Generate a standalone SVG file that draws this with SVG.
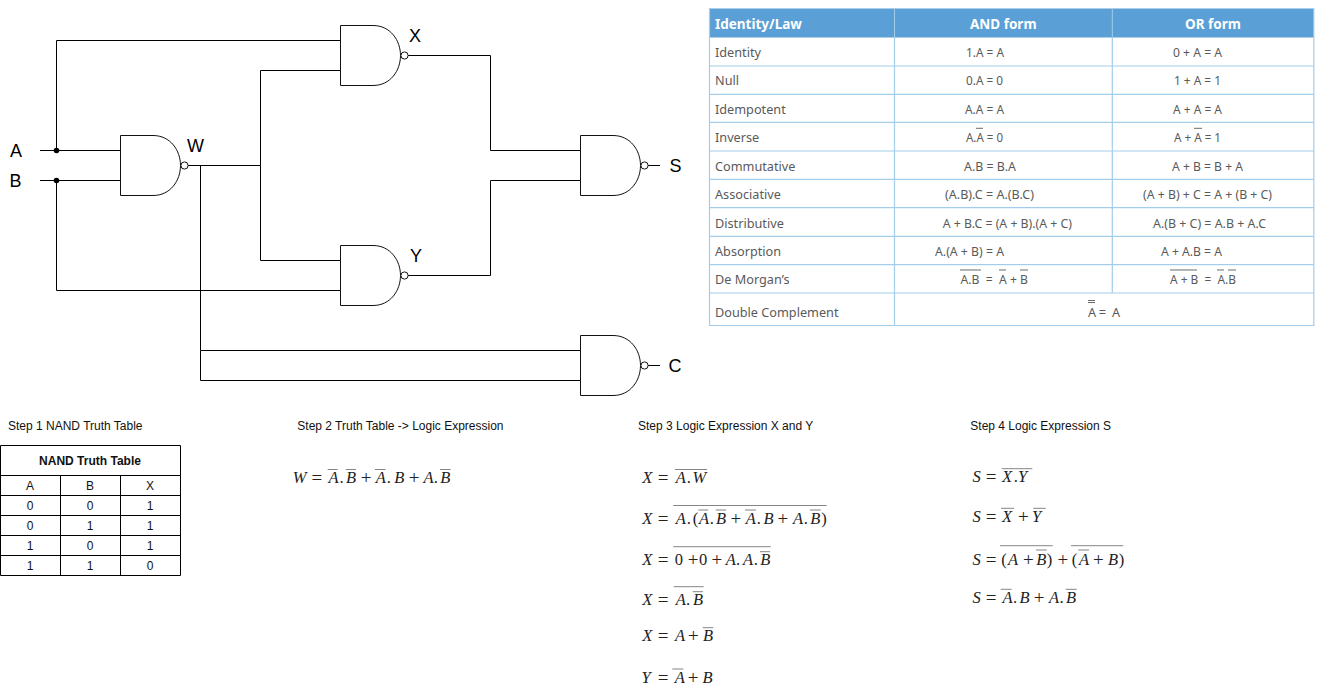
<svg xmlns="http://www.w3.org/2000/svg" xmlns:xlink="http://www.w3.org/1999/xlink" width="1324" height="698" viewBox="0 0 1324 698">
<style>
.w{fill:none;stroke:#000;stroke-width:1}
.g{fill:#fff;stroke:#111;stroke-width:1}
.l{font:18px "Liberation Sans",Arial,sans-serif;fill:#000}
.s{font:12px "Liberation Sans",Arial,sans-serif;fill:#111}
.c{font:12px "Liberation Sans",Arial,sans-serif;fill:#111;text-anchor:middle}
.b{font-weight:700}
.tb{fill:none;stroke:#000;stroke-width:1}
.tl{fill:none;stroke:#a3cdea;stroke-width:1.2}
.tt{font:12.7px "Noto Sans",sans-serif;fill:#5a5a5a}
.th{font:700 13.5px "Noto Sans",sans-serif;fill:#fff}
.o{stroke:#666;stroke-width:.8;fill:none}
.ot{stroke:#444;stroke-width:.8;fill:none}
.m{font:italic 16.5px "Liberation Serif",serif;fill:#222}
.r{font-style:normal}
.p{font-style:normal;font-size:19px;baseline-shift:-.7px}
</style>
<defs>
<g id="nand">
<path class="g" d="M0 0H32.5C50 0 60 15 60 30C60 45 50 60 32.5 60H0Z"/>
<circle class="g" cx="64" cy="30" r="3.6"/>
</g>
</defs>

<g id="connectors">
<path class="w" d="M40 150.5H120.5M40 180.5H120.5"/>
<path class="w" d="M56.5 150.5V40.5H340.5"/>
<path class="w" d="M56.5 180.5V290.5H340.5"/>
<path class="w" d="M187.5 165.5H260.5"/>
<path class="w" d="M340.5 70.5H260.5V260.5H340.5"/>
<path class="w" d="M580.5 350.5H200.5V165.5M200.5 350.5V380.5H580.5"/>
<path class="w" d="M407.5 55.5H490.5V150.5H580.5"/>
<path class="w" d="M407.5 275.5H490.5V180.5H580.5"/>
<path class="w" d="M647.5 165.5H660M647.5 365.5H660"/>
<circle cx="56.5" cy="150.5" r="2.8"/>
<circle cx="56.5" cy="180.5" r="2.8"/>
</g>

<g id="input-a"><text class="l" x="10" y="157">A</text></g>
<g id="input-b"><text class="l" x="9.5" y="187">B</text></g>
<g id="gate-w"><use xlink:href="#nand" href="#nand" x="120.5" y="135.5"/><text class="l" x="187" y="152">W</text></g>
<g id="gate-x"><use xlink:href="#nand" href="#nand" x="340.5" y="25.5"/><text class="l" x="409" y="42">X</text></g>
<g id="gate-y"><use xlink:href="#nand" href="#nand" x="340.5" y="245.5"/><text class="l" x="410" y="262">Y</text></g>
<g id="gate-s"><use xlink:href="#nand" href="#nand" x="580.5" y="135.5"/><text class="l" x="669.5" y="172">S</text></g>
<g id="gate-c"><use xlink:href="#nand" href="#nand" x="580.5" y="335.5"/><text class="l" x="668.5" y="372">C</text></g>

<g id="laws-table">
<rect x="709" y="8.5" width="605" height="29" fill="#5a9fd6"/>
<path d="M894.5 8.5V37.5M1112.3 8.5V37.5" stroke="#a3cdea" stroke-width="1"/>
<path class="tl" d="M709.5 8V325.5H1313.8V8M709 66H1314M709 94.3H1314M709 122.3H1314M709 151H1314M709 179.3H1314M709 207.7H1314M709 236.3H1314M709 264.7H1314M709 293H1314M894.5 37.5V325.5M1112.3 37.5V293"/>
<text class="th" x="715" y="28.5">Identity/Law</text>
<text class="th" x="970" y="28.5">AND form</text>
<text class="th" x="1185" y="28.5">OR form</text>

<g>
<text class="tt" x="715" y="57">Identity</text>
<text class="tt" x="715" y="85.3">Null</text>
<text class="tt" x="715" y="113.5">Idempotent</text>
<text class="tt" x="715" y="142">Inverse</text>
<text class="tt" x="715" y="170.5">Commutative</text>
<text class="tt" x="715" y="199.3">Associative</text>
<text class="tt" x="715" y="227.5">Distributive</text>
<text class="tt" x="715" y="255.7">Absorption</text>
<text class="tt" x="715" y="284">De Morgan’s</text>
<text class="tt" x="715" y="317">Double Complement</text>

<text class="tt" x="966" y="57" textLength="38" lengthAdjust="spacingAndGlyphs">1.A = A</text>
<text class="tt" x="966" y="85.3" textLength="37" lengthAdjust="spacingAndGlyphs">0.A = 0</text>
<text class="tt" x="965" y="113.5" textLength="39" lengthAdjust="spacingAndGlyphs">A.A = A</text>
<text class="tt" x="966" y="142" textLength="37" lengthAdjust="spacingAndGlyphs">A.A = 0</text>
<text class="tt" x="964" y="170.5" textLength="52" lengthAdjust="spacingAndGlyphs">A.B = B.A</text>
<text class="tt" x="945" y="199.3" textLength="89" lengthAdjust="spacingAndGlyphs">(A.B).C = A.(B.C)</text>
<text class="tt" x="942.7" y="227.5" textLength="129.3" lengthAdjust="spacingAndGlyphs">A + B.C = (A + B).(A + C)</text>
<text class="tt" x="935" y="255.7" textLength="69" lengthAdjust="spacingAndGlyphs">A.(A + B) = A</text>
<text class="tt" x="960.5" y="284" textLength="67.5" lengthAdjust="spacingAndGlyphs" xml:space="preserve">A.B  =  A + B</text>

<text class="tt" x="1173" y="57" textLength="49" lengthAdjust="spacingAndGlyphs">0 + A = A</text>
<text class="tt" x="1174" y="85.3" textLength="47" lengthAdjust="spacingAndGlyphs">1 + A = 1</text>
<text class="tt" x="1173" y="113.5" textLength="49" lengthAdjust="spacingAndGlyphs">A + A = A</text>
<text class="tt" x="1174" y="142" textLength="47" lengthAdjust="spacingAndGlyphs">A + A = 1</text>
<text class="tt" x="1172" y="170.5" textLength="71" lengthAdjust="spacingAndGlyphs">A + B = B + A</text>
<text class="tt" x="1143" y="199.3" textLength="129" lengthAdjust="spacingAndGlyphs">(A + B) + C = A + (B + C)</text>
<text class="tt" x="1153" y="227.5" textLength="113" lengthAdjust="spacingAndGlyphs">A.(B + C) = A.B + A.C</text>
<text class="tt" x="1161" y="255.7" textLength="61" lengthAdjust="spacingAndGlyphs">A + A.B = A</text>
<text class="tt" x="1170" y="284" textLength="66" lengthAdjust="spacingAndGlyphs" xml:space="preserve">A + B  =  A.B</text>
<text class="tt" x="1088" y="317" textLength="32" xml:space="preserve">A =  A</text>
</g>
<path class="ot" d="M976 128.3H983M1194 128.3H1202M960 270H981M999 270H1006M1020 270H1028M1170 270H1197M1217 270H1224M1228 270H1236M1088 300.5H1095M1088 302.5H1095"/>
</g>

<g id="step-titles">
<text class="s" x="8" y="430">Step 1 NAND Truth Table</text>
<text class="s" x="297.3" y="430">Step 2 Truth Table -&gt; Logic Expression</text>
<text class="s" x="638" y="430">Step 3 Logic Expression X and Y</text>
<text class="s" x="970.3" y="430">Step 4 Logic Expression S</text>
</g>

<g id="truth-table">
<path class="tb" d="M.5 445.5H180.5V575.5H.5ZM.5 475.5H180.5M.5 495.5H180.5M.5 515.5H180.5M.5 535.5H180.5M.5 555.5H180.5M60.5 475.5V575.5M120.5 475.5V575.5"/>
<text class="c b" x="90" y="465">NAND Truth Table</text>
<text class="c" x="30" y="490">A</text><text class="c" x="90" y="490">B</text><text class="c" x="150" y="490">X</text>
<text class="c" x="30" y="510">0</text><text class="c" x="90" y="510">0</text><text class="c" x="150" y="510">1</text>
<text class="c" x="30" y="530">0</text><text class="c" x="90" y="530">1</text><text class="c" x="150" y="530">1</text>
<text class="c" x="30" y="550">1</text><text class="c" x="90" y="550">0</text><text class="c" x="150" y="550">1</text>
<text class="c" x="30" y="570">1</text><text class="c" x="90" y="570">1</text><text class="c" x="150" y="570">0</text>
</g>

<g id="step2-expression">
<text class="m" x="292.7 311.4 328.5 339.5 346 360.7 375.8 386.8 394.2 408.7 423.5 433.8 440.2" y="483">W<tspan class="p">=</tspan>A<tspan class="r">.</tspan>B<tspan class="p">+</tspan>A<tspan class="r">.</tspan>B<tspan class="p">+</tspan>A<tspan class="r">.</tspan>B</text>
<path class="o" d="M327.7 469.5H337.7M345.7 469.5H356M375 469.5H385.5M440 469.5H450.7"/>
</g>

<g id="step3-expressions">
<text class="m" x="642.3 657.7 675.8 686.8 692.4" y="482.7">X<tspan class="p">=</tspan>A<tspan class="r">.</tspan>W</text>
<path class="o" d="M675 469.5H707"/>
<text class="m" x="642.3 657.7 675.8 686.8 692.8 699.1 709.8 716 730.4 745.8 756.8 763.6 777.4 793.1 803.8 810.2 821.2" y="524.3">X<tspan class="p">=</tspan>A<tspan class="r">.</tspan><tspan class="r">(</tspan>A<tspan class="r">.</tspan>B<tspan class="p">+</tspan>A<tspan class="r">.</tspan>B<tspan class="p">+</tspan>A<tspan class="r">.</tspan>B<tspan class="r">)</tspan></text>
<path class="o" d="M673.3 505.5H826.7M698.3 510H708.3M715.7 510H726M745 510H756M810 510H820.7"/>
<text class="m" x="642.3 657.7 674.8 687.7 699 711.4 725.8 736.1 743.1 753.8 760.2" y="565">X<tspan class="p">=</tspan><tspan class="r">0</tspan><tspan class="p">+</tspan><tspan class="r">0</tspan><tspan class="p">+</tspan>A<tspan class="r">.</tspan>A<tspan class="r">.</tspan>B</text>
<path class="o" stroke-width="1.4" d="M673.3 546.7H770.7"/><path class="o" d="M760 551.7H770"/>
<text class="m" x="642.3 657.7 675.8 686.1 693" y="605">X<tspan class="p">=</tspan>A<tspan class="r">.</tspan>B</text>
<path class="o" d="M673.7 586.7H703.7M692.7 591.7H703"/>
<text class="m" x="642.3 657.7 675.1 688 703" y="641">X<tspan class="p">=</tspan>A<tspan class="p">+</tspan>B</text>
<path class="o" d="M702.7 627.7H713.3"/>
<text class="m" x="641.5 657.7 674.8 687.7 702.5" y="682.7">Y<tspan class="p">=</tspan>A<tspan class="p">+</tspan>B</text>
<path class="o" d="M672.3 669H683.3"/>
</g>

<g id="step4-expressions">
<text class="m" x="972.5 985.7 1002 1013.8 1018" y="482">S<tspan class="p">=</tspan>X<tspan class="r">.</tspan>Y</text>
<path class="o" d="M1001.7 468.7H1032.3"/>
<text class="m" x="972.5 985.7 1002 1018 1032" y="522">S<tspan class="p">=</tspan>X<tspan class="p">+</tspan>Y</text>
<path class="o" d="M1001 508.3H1014M1033.3 508.3H1045.7"/>
<text class="m" x="972.5 985.7 1001.2 1008.1 1023 1036.2 1046.8 1057.4 1071.8 1079.1 1093 1107.9 1118.8" y="565">S<tspan class="p">=</tspan><tspan class="r">(</tspan>A<tspan class="p">+</tspan>B<tspan class="r">)</tspan><tspan class="p">+</tspan><tspan class="r">(</tspan>A<tspan class="p">+</tspan>B<tspan class="r">)</tspan></text>
<path class="o" d="M1000 545.7H1052.7M1071 545.7H1123.3M1036 550H1046.7M1078.3 550H1089"/>
<text class="m" x="972.5 985.7 1002.5 1013.1 1019.5 1033.7 1049.1 1059.5 1065.9" y="602.7">S<tspan class="p">=</tspan>A<tspan class="r">.</tspan>B<tspan class="p">+</tspan>A<tspan class="r">.</tspan>B</text>
<path class="o" d="M1000.7 589.3H1011.7M1065.7 589.3H1076.7"/>
</g>
</svg>
